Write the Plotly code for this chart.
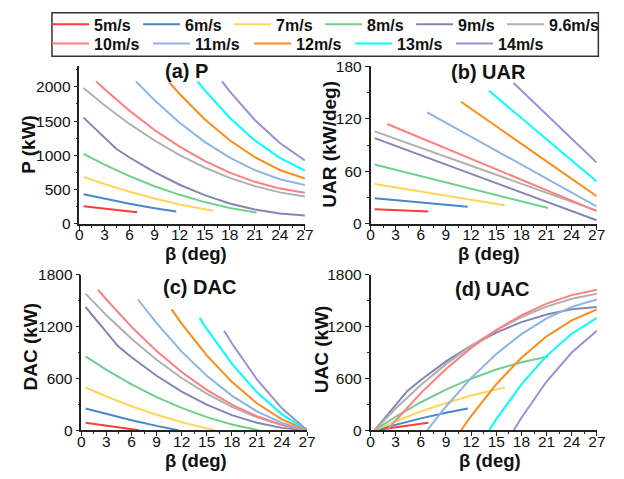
import plotly.graph_objects as go

# Wind speeds and their line colours
WIND = ["5m/s", "6m/s", "7m/s", "8m/s", "9m/s", "9.6m/s",
        "10m/s", "11m/s", "12m/s", "13m/s", "14m/s"]
COLORS = ["#ff3b3b", "#4a86c8", "#ffd65a", "#6fcf8c", "#8585b5", "#b0b0b0",
          "#ff7f7f", "#8fb4e3", "#ff8c1a", "#00ffff", "#9b8fd6"]

# Pitch angle samples (deg) for each wind speed
BETA = {
    "5m/s": [0.5, 3, 6, 6.9],
    "6m/s": [0.5, 3, 6, 9, 11.6],
    "7m/s": [0.5, 3, 6, 9, 12, 16],
    "8m/s": [0.5, 3, 6, 9, 12, 15, 18, 21.2],
    "9m/s": [0.5, 4.4, 6, 9, 12, 15, 18, 21, 24, 27],
    "9.6m/s": [0.5, 3, 6, 9, 12, 15, 18, 21, 24, 27],
    "10m/s": [2, 3, 6, 9, 12, 15, 18, 21, 24, 27],
    "11m/s": [6.77, 9, 12, 15, 18, 21, 24, 27],
    "12m/s": [10.8, 12, 15, 18, 21, 24, 27],
    "13m/s": [14.15, 15, 18, 21, 24, 27],
    "14m/s": [17.08, 18, 21, 24, 27],
}

# (a) power P (kW)
P_KW = {
    "5m/s": [255, 219, 179, 168],
    "6m/s": [430, 365, 293, 228, 178],
    "7m/s": [685, 581, 468, 369, 283, 190],
    "8m/s": [1020, 864, 696, 549, 423, 317, 232, 165],
    "9m/s": [1550, 1095, 968, 753, 570, 418, 297, 208, 149, 122],
    "9.6m/s": [1982, 1731, 1458, 1216, 1004, 822, 670, 550, 459, 399],
    "10m/s": [2080, 1967, 1650, 1370, 1126, 919, 748, 613, 514, 452],
    "11m/s": [2080, 1805, 1476, 1197, 966, 784, 650, 565],
    "12m/s": [2060, 1896, 1527, 1220, 972, 786, 660],
    "13m/s": [2080, 1952, 1549, 1218, 962, 778],
    "14m/s": [2080, 1935, 1516, 1180, 927],
}

# (b) UAR (kW/deg)
UAR = {
    "5m/s": [16.6, 15.6, 14.4, 14.0],
    "6m/s": [29.1, 26.9, 24.3, 21.8, 19.5],
    "7m/s": [45.6, 41.7, 37.0, 32.3, 27.6, 21.3],
    "8m/s": [67.7, 61.7, 54.5, 47.3, 40.1, 32.9, 25.7, 18.0],
    "9m/s": [97.9, 84.1, 78.4, 67.8, 57.2, 46.5, 35.9, 25.3, 14.6, 4.0],
    "9.6m/s": [105.6, 97.1, 86.8, 76.6, 66.3, 56.1, 45.8, 35.6, 25.4, 15.1],
    "10m/s": [114.1, 110.1, 98.2, 86.2, 74.3, 62.3, 50.4, 38.4, 26.5, 14.5],
    "11m/s": [127.3, 115.5, 99.5, 83.6, 67.7, 51.8, 35.8, 19.9],
    "12m/s": [139.5, 131.5, 111.5, 91.5, 71.5, 51.5, 31.5],
    "13m/s": [152.0, 145.2, 121.0, 96.8, 72.6, 48.4],
    "14m/s": [160.8, 152.4, 124.9, 97.5, 70.0],
}

# (c) DAC (kW)
DAC = {
    "5m/s": [87, 51, 11, 0],
    "6m/s": [252, 187, 115, 50, 0],
    "7m/s": [495, 391, 278, 179, 93, 0],
    "8m/s": [855, 699, 531, 384, 258, 152, 67, 0],
    "9m/s": [1428, 973, 846, 631, 448, 296, 175, 86, 27, 0],
    "9.6m/s": [1583, 1332, 1059, 817, 605, 423, 271, 151, 60, 0],
    "10m/s": [1628, 1515, 1198, 918, 674, 467, 296, 161, 62, 0],
    "11m/s": [1515, 1240, 911, 632, 401, 219, 85, 0],
    "12m/s": [1400, 1236, 867, 560, 312, 126, 0],
    "13m/s": [1302, 1174, 771, 440, 184, 0],
    "14m/s": [1153, 1008, 589, 253, 0],
}

# (d) UAC (kW)
UAC = {
    "5m/s": [0, 36, 76, 87],
    "6m/s": [0, 65, 137, 202, 252],
    "7m/s": [0, 104, 217, 316, 402, 495],
    "8m/s": [0, 156, 324, 471, 597, 703, 788, 855],
    "9m/s": [0, 455, 582, 797, 980, 1132, 1253, 1342, 1401, 1428],
    "9.6m/s": [0, 251, 524, 766, 978, 1160, 1312, 1432, 1523, 1583],
    "10m/s": [0, 113, 430, 710, 954, 1161, 1332, 1467, 1566, 1628],
    "11m/s": [0, 275, 604, 883, 1114, 1296, 1430, 1515],
    "12m/s": [0, 164, 533, 840, 1088, 1274, 1400],
    "13m/s": [0, 128, 531, 862, 1118, 1302],
    "14m/s": [0, 145, 564, 900, 1153],
}

X_TICKS = [0, 3, 6, 9, 12, 15, 18, 21, 24, 27]

W, H = 624, 479
FONT = "Liberation Sans, Arial, sans-serif"
INK = "#111"


def px_x(v):
    return v / W


def px_y(v):
    return 1 - v / H


fig = go.Figure()

panels = [("x", "y", P_KW), ("x2", "y2", UAR), ("x3", "y3", DAC), ("x4", "y4", UAC)]
for i, w in enumerate(WIND):
    leg = "legend" if i < 6 else "legend2"
    # the last entry of the first legend row needs room for its longer label
    lw = 54 if w == "9.6m/s" else None
    for j, (xa, ya, src) in enumerate(panels):
        fig.add_trace(go.Scatter(
            x=BETA[w], y=src[w], mode="lines", name=w,
            line=dict(color=COLORS[i], width=2),
            legend=leg, legendgroup=w, showlegend=(j == 0),
            legendwidth=lw,
            xaxis=xa, yaxis=ya,
        ))


def xaxis(domain, anchor):
    return dict(
        domain=domain, anchor=anchor, range=[0, 27],
        tickmode="array", tickvals=X_TICKS,
        ticks="outside", ticklen=4, tickwidth=1.3, tickcolor="#222",
        minor=dict(ticks="outside", ticklen=2, dtick=1.5, tickcolor="#222", tickwidth=1.1),
        ticklabelstandoff=-8,
        showline=True, linecolor="#222", linewidth=1.5,
        showgrid=False, zeroline=False,
        tickfont=dict(size=15.5, color=INK, family=FONT),
    )


def yaxis(domain, anchor, rng, dtick):
    return dict(
        domain=domain, anchor=anchor, range=rng, dtick=dtick, tick0=0,
        ticks="outside", ticklen=4, tickwidth=1.3, tickcolor="#222",
        minor=dict(ticks="outside", ticklen=2, dtick=dtick / 2, tickcolor="#222", tickwidth=1.1),
        showline=True, linecolor="#222", linewidth=1.5,
        showgrid=False, zeroline=False,
        tickfont=dict(size=15.5, color=INK, family=FONT),
    )


top = [px_y(222.7), px_y(59.4)]
bot = [px_y(436.7), px_y(275.7)]

legend_font = dict(size=16, family=FONT, color=INK, weight="bold")

fig.update_layout(
    width=W, height=H,
    margin=dict(l=0, r=0, t=0, b=0),
    paper_bgcolor="white", plot_bgcolor="white",
    font=dict(family=FONT, color=INK),
    xaxis=xaxis([px_x(77), px_x(307.3)], "y"),
    yaxis=yaxis(top, "x", [0, 2300], 500),
    xaxis2=xaxis([px_x(374.3), px_x(605.3)], "y2"),
    yaxis2=yaxis(top, "x2", [0, 180], 60),
    xaxis3=xaxis([px_x(79), px_x(309.5)], "y3"),
    yaxis3=yaxis(bot, "x3", [0, 1800], 600),
    xaxis4=xaxis([px_x(374.3), px_x(605.5)], "y4"),
    yaxis4=yaxis(bot, "x4", [0, 1800], 600),
    legend=dict(
        orientation="h", x=px_x(44), xanchor="left", y=px_y(16), yanchor="middle",
        font=legend_font, itemwidth=37, entrywidth=39,
        bgcolor="rgba(0,0,0,0)", borderwidth=0,
    ),
    legend2=dict(
        orientation="h", x=px_x(44), xanchor="left", y=px_y(36), yanchor="middle",
        font=legend_font, itemwidth=37, entrywidth=49,
        bgcolor="rgba(0,0,0,0)", borderwidth=0,
    ),
    shapes=[dict(
        type="rect", xref="paper", yref="paper",
        x0=px_x(49), x1=px_x(607), y0=px_y(49), y1=px_y(4),
        line=dict(color="#333", width=1.5), fillcolor="rgba(0,0,0,0)",
    )],
    showlegend=True,
)

# Panel titles
titles = [("(a) P", 186, 64), ("(b) UAR", 495, 65),
          ("(c) DAC", 200, 288.3), ("(d) UAC", 498, 290)]
for text, tx, ty in titles:
    fig.add_annotation(
        text="<b>" + text + "</b>", x=px_x(tx), y=px_y(ty), xref="paper", yref="paper",
        xanchor="center", yanchor="middle", showarrow=False,
        font=dict(size=20, color=INK, family=FONT),
    )

# Axis titles
x_titles = [(196, 254), (495, 254), (196, 468), (496, 468)]
for tx, ty in x_titles:
    fig.add_annotation(
        text="<b>β (deg)</b>", x=px_x(tx), y=px_y(ty), xref="paper", yref="paper",
        xanchor="center", yanchor="middle", showarrow=False,
        font=dict(size=18.5, color=INK, family=FONT),
    )

y_titles = [("P (kW)", 24.3, 140), ("UAR (kW/deg)", 331.5, 140),
            ("DAC (kW)", 27.5, 350), ("UAC (kW)", 324.5, 353)]
for text, tx, ty in y_titles:
    fig.add_annotation(
        text="<b>" + text + "</b>", x=px_x(tx), y=px_y(ty), xref="paper", yref="paper",
        xanchor="center", yanchor="middle", textangle=-90, showarrow=False,
        font=dict(size=19, color=INK, family=FONT),
    )

fig.write_html("out.html")
